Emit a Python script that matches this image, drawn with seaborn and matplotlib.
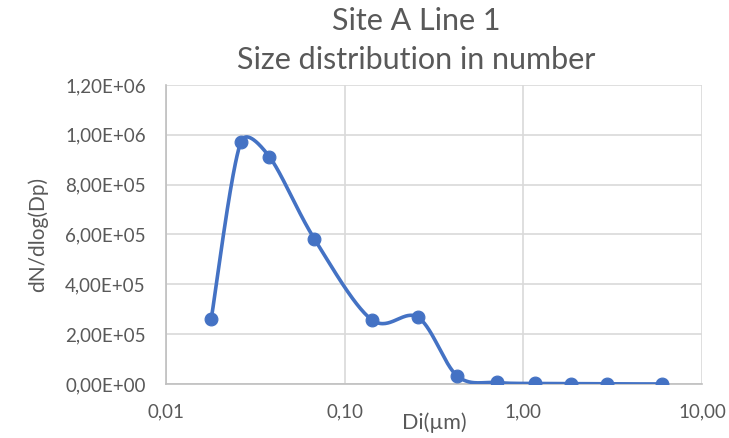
import numpy as np
import pandas as pd
import matplotlib
matplotlib.use("Agg")
import matplotlib.pyplot as plt
from matplotlib.ticker import FuncFormatter, FixedLocator
import seaborn as sns

# Particle diameter (µm) and number concentration dN/dlog(Dp)
diameter_um = [0.0179, 0.0262, 0.0379, 0.0676, 0.1416, 0.258, 0.427, 0.714, 1.16, 1.84, 2.93, 5.94]
dn_dlogdp = [2.60e5, 9.70e5, 9.12e5, 5.83e5, 2.58e5, 2.67e5, 3.2e4, 6.0e3, 2.0e3, 1.0e3, 5.0e2, 2.0e2]

x_ticks = [0.01, 0.1, 1, 10]
y_ticks = [0, 2e5, 4e5, 6e5, 8e5, 1e6, 1.2e6]

title_text = "Site A Line 1\nSize distribution in number"
x_label = "Di(µm)"
y_label = "dN/dlog(Dp)"

BLUE = "#4472C4"
TEXT = "#595959"
GRID = "#D9D9D9"

sns.set_theme(style="white")
plt.rcParams["font.family"] = ["Lato", "DejaVu Sans"]

df = pd.DataFrame({"d": diameter_um, "n": dn_dlogdp})


def smooth_curve(ax, xs, ys, steps=60):
    """Bezier smoothing in display space with control-arm lengths capped
    at half of each segment (spreadsheet-style smoothed line)."""
    pts = ax.transData.transform(np.column_stack([xs, ys]))
    n = len(pts)
    out = []
    for i in range(n - 1):
        p0 = pts[i - 1] if i > 0 else pts[i]
        p1 = pts[i]
        p2 = pts[i + 1]
        p3 = pts[i + 2] if i + 2 < n else pts[i + 1]
        d02 = np.linalg.norm(p2 - p0)
        d12 = np.linalg.norm(p2 - p1)
        d13 = np.linalg.norm(p3 - p1)
        if d02 / 6 < d12 / 2 and d13 / 6 < d12 / 2:
            f = 1 / 6
        elif d02 > d13:
            f = d12 / 2 / d02
        else:
            f = d12 / 2 / d13
        c1 = p1 + (p2 - p0) * f
        c2 = p2 - (p3 - p1) * f
        t = np.linspace(0, 1, steps)[:, None]
        seg = ((1 - t) ** 3) * p1 + 3 * ((1 - t) ** 2) * t * c1 + 3 * (1 - t) * t ** 2 * c2 + t ** 3 * p2
        out.append(seg if i == 0 else seg[1:])
    curve = ax.transData.inverted().transform(np.vstack(out))
    return pd.DataFrame({"d": curve[:, 0], "n": curve[:, 1]})


fig = plt.figure(figsize=(7.29, 4.38), dpi=100)
ax = fig.add_axes([0.2277, 0.1233, 0.7353, 0.6827])
ax.set_xscale("log")
ax.set_xlim(0.01, 10)
ax.set_ylim(0, 1.2e6)

curve_df = smooth_curve(ax, diameter_um, dn_dlogdp)

sns.lineplot(data=curve_df, x="d", y="n", sort=False, ax=ax, color=BLUE,
             linewidth=2.6, estimator=None, zorder=3)
sns.scatterplot(data=df, x="d", y="n", ax=ax, color=BLUE, s=85,
                edgecolor=BLUE, linewidth=0.8, zorder=4)

ax.set_xlim(0.01, 10)
ax.set_ylim(0, 1.2e6)
ax.xaxis.set_major_locator(FixedLocator(x_ticks))
ax.xaxis.set_minor_locator(FixedLocator([]))
ax.yaxis.set_major_locator(FixedLocator(y_ticks))
ax.xaxis.set_major_formatter(FuncFormatter(lambda v, p: f"{v:.2f}".replace(".", ",")))
ax.yaxis.set_major_formatter(FuncFormatter(lambda v, p: f"{v:.2E}".replace(".", ",")))

ax.grid(True, which="major", color=GRID, linewidth=1.2, zorder=0)
for side in ["top", "right"]:
    ax.spines[side].set_visible(False)
for side in ["left", "bottom"]:
    ax.spines[side].set_color("#BFBFBF")
    ax.spines[side].set_linewidth(1.2)

ax.tick_params(axis="y", length=0, labelsize=13.5, colors=TEXT, pad=14.5)
ax.tick_params(axis="x", length=0, labelsize=13.5, colors=TEXT, pad=14)
ax.set_xlabel(x_label, fontsize=15.5, color=TEXT, labelpad=-6)
ax.set_ylabel(y_label, fontsize=15, color=TEXT, labelpad=12)

fig.text(0.571, 0.985, title_text, ha="center", va="top", fontsize=22,
         color=TEXT, linespacing=1.5)

fig.savefig("out.png", dpi=100, facecolor="white")
